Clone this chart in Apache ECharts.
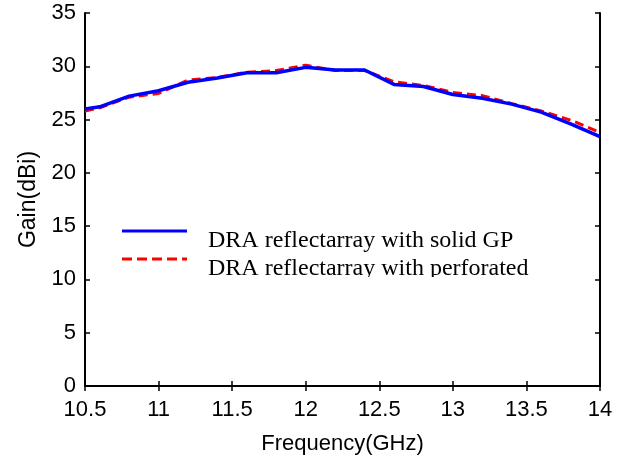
<!DOCTYPE html>
<html>
<head>
<meta charset="utf-8">
<script src="https://cdn.jsdelivr.net/npm/echarts@6/dist/echarts.min.js"></script>
<style>
  html, body { margin: 0; padding: 0; background: #fff; }
  #chart { width: 623px; height: 463px; }
</style>
</head>
<body>
<div id="chart"></div>
<script>
// 频率点 (GHz)
const freqs = [10.5, 10.6, 10.8, 11.0, 11.2, 11.4, 11.6, 11.8, 12.0, 12.2, 12.4, 12.6, 12.8, 13.0, 13.2, 13.4, 13.6, 13.8, 14.0];
// 实心地板
const gainSolid = [26.0, 26.2, 27.2, 27.7, 28.5, 28.9, 29.4, 29.4, 29.9, 29.65, 29.65, 28.3, 28.1, 27.35, 27.0, 26.45, 25.7, 24.6, 23.4];
// 穿孔地板
const gainPerforated = [25.8, 26.1, 27.1, 27.45, 28.7, 28.95, 29.45, 29.6, 30.1, 29.6, 29.6, 28.55, 28.2, 27.55, 27.25, 26.5, 25.8, 24.95, 23.8];
const legendNames = ['DRA reflectarray with solid GP', 'DRA reflectarray with perforated'];

const sans = 'Liberation Sans, Arial, sans-serif';
const serif = 'Liberation Serif, Times New Roman, serif';

function pairs(xs, ys) {
  return xs.map((x, i) => [x, ys[i]]);
}

const frameAxis = {
  axisLine: { show: true, lineStyle: { color: '#000', width: 2 } },
  axisTick: { show: true, inside: true, length: 5, lineStyle: { color: '#000', width: 1.5 } },
  splitLine: { show: false }
};

const chart = echarts.init(document.getElementById('chart'));
chart.setOption({
  animation: false,
  grid: { left: 85, right: 23, top: 13, bottom: 77 },
  xAxis: [
    Object.assign({
      type: 'value', min: 10.5, max: 14, interval: 0.5,
      name: 'Frequency(GHz)', nameLocation: 'middle', nameGap: 47,
      nameTextStyle: { fontFamily: sans, fontSize: 22, color: '#000' },
      axisLabel: { fontFamily: sans, fontSize: 22, color: '#000', margin: 13, showMinLabel: true, showMaxLabel: true }
    }, frameAxis),
    Object.assign({
      type: 'value', position: 'top', min: 10.5, max: 14, interval: 0.5,
      axisLabel: { show: false }
    }, frameAxis)
  ],
  yAxis: [
    Object.assign({
      type: 'value', min: 0, max: 35, interval: 5,
      name: 'Gain(dBi)', nameLocation: 'middle', nameGap: 44, nameRotate: 90,
      nameTextStyle: { fontFamily: sans, fontSize: 23, color: '#000' },
      axisLabel: { fontFamily: sans, fontSize: 22, color: '#000', margin: 9 }
    }, frameAxis),
    Object.assign({
      type: 'value', position: 'right', min: 0, max: 35, interval: 5,
      axisLabel: { show: false }
    }, frameAxis)
  ],
  series: [
    {
      name: legendNames[1], type: 'line', data: pairs(freqs, gainPerforated),
      showSymbol: false, lineStyle: { color: '#ff0000', width: 3, type: [9, 5] }, z: 2
    },
    {
      name: legendNames[0], type: 'line', data: pairs(freqs, gainSolid),
      showSymbol: false, lineStyle: { color: '#0000ff', width: 3.5 }, z: 3
    }
  ],
  graphic: [
    { type: 'line', shape: { x1: 122, y1: 231, x2: 187, y2: 231 }, style: { stroke: '#0000ff', lineWidth: 3 } },
    { type: 'line', shape: { x1: 122, y1: 259, x2: 187, y2: 259 }, style: { stroke: '#ff0000', lineWidth: 3, lineDash: [10, 5] } },
    { type: 'text', x: 208, y: 241, style: { text: legendNames[0], fontFamily: serif, fontSize: 24, fill: '#000', verticalAlign: 'middle' } },
    { type: 'text', x: 208, y: 269, style: { text: legendNames[1], fontFamily: serif, fontSize: 24, fill: '#000', verticalAlign: 'middle' } },
    // 图例框底边裁切
    { type: 'rect', z: 100, shape: { x: 200, y: 277, width: 340, height: 10 }, style: { fill: '#fff' } }
  ]
});
</script>
</body>
</html>
